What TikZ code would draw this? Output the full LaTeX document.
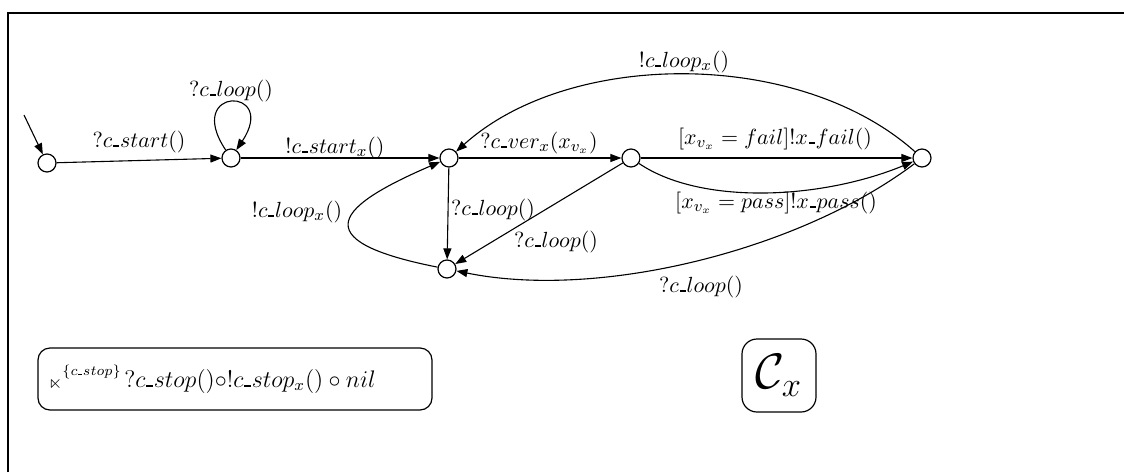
\documentclass[tikz,border=0pt]{standalone}
\usepackage{amssymb}
\usetikzlibrary{arrows.meta}
% short underscore bar sitting on the baseline
\newcommand{\ubar}{\mathord{\kern0.04em\rule{0.27em}{0.1em}\kern0.04em}}
\tikzset{
  st/.style={circle,draw,line width=0.6pt,minimum size=9pt,inner sep=0pt,fill=white},
  tr/.style={draw,line width=0.55pt,-{Triangle[length=5.5pt,width=4pt]}},
  lbl/.style={font=\fontsize{11}{13}\selectfont,inner sep=0pt},
  boxed/.style={draw,line width=0.6pt},
}
\begin{document}
\begin{tikzpicture}[x=0.5pt,y=-0.5pt]
\useasboundingbox (0,0) rectangle (1124,472);
% frame
\draw[line width=1.2pt] (8,472) -- (8,13) -- (1124,13);

% states
\node[st] (s0) at (47,163) {};
\node[st] (s1) at (231,158) {};
\node[st] (s2) at (449,158) {};
\node[st] (s3) at (631,158) {};
\node[st] (s4) at (922,158) {};
\node[st] (s5) at (447,269) {};
\coordinate (init) at (24,115);

% transitions
\draw[tr] (init) -- (s0);
\draw[tr] (s0) -- (s1);
\draw[tr] (s1) .. controls (183,86) and (279,86) .. (s1);
\draw[tr] (s1) -- (s2);
\draw[tr] (s2) -- (s3);
\draw[tr] (s3) -- (s4);
\draw[tr] (s3) .. controls (700,205) and (820,200) .. (s4);
\draw[tr] (s4) .. controls (800,49) and (570,49) .. (s2);
\draw[tr] (s2) -- (s5);
\draw[tr] (s3) -- (s5);
\draw[tr] (s4) .. controls (800,250) and (600,300) .. (s5);
\draw[tr] (s5) .. controls (300,240) and (340,205) .. (s2);

% transition labels
\node[lbl] (l01) at (139,142) {$?c\ubar start()$};
\node[lbl] (l11) at (231,91) {$?c\ubar loop()$};
\node[lbl] (l12) at (335,148) {$!c\ubar start_x()$};
\node[lbl] (l23) at (539,143) {$?c\ubar ver_x(x_{v_x})$};
\node[lbl] (l42) at (684,62) {$!c\ubar loop_x()$};
\node[lbl] (l34a) at (775,139) {$[x_{v_x} = fail]!x\ubar fail()$};
\node[lbl] (l34b) at (776,203) {$[x_{v_x} = pass]!x\ubar pass()$};
\node[lbl] (l25) at (493,210) {$?c\ubar loop()$};
\node[lbl] (l35) at (556,242) {$?c\ubar loop()$};
\node[lbl] (l45) at (701,287) {$?c\ubar loop()$};
\node[lbl] (l52) at (297,212) {$!c\ubar loop_x()$};

% stop clause
\node[boxed,rounded corners=6pt,minimum width=197pt,minimum height=31pt] (stopbox) at (235,379) {};
\node[anchor=west,inner sep=0pt] (stoptext) at (48,379)
  {\raisebox{-0.5pt}{\fontsize{9}{10}\selectfont$\ltimes$}\raisebox{6pt}{\fontsize{7.5}{9}\selectfont$\{c\ubar stop\}$}\,{\fontsize{12}{14}\selectfont$?c\ubar stop(){\circ}!c\ubar stop_x() \circ nil$}};

% component name
\node[boxed,rounded corners=7.5pt,minimum width=37pt,minimum height=36.5pt,font=\fontsize{24}{28}\selectfont] (comp) at (779,375.5) {$\mathcal{C}_x$};
\end{tikzpicture}
\end{document}
